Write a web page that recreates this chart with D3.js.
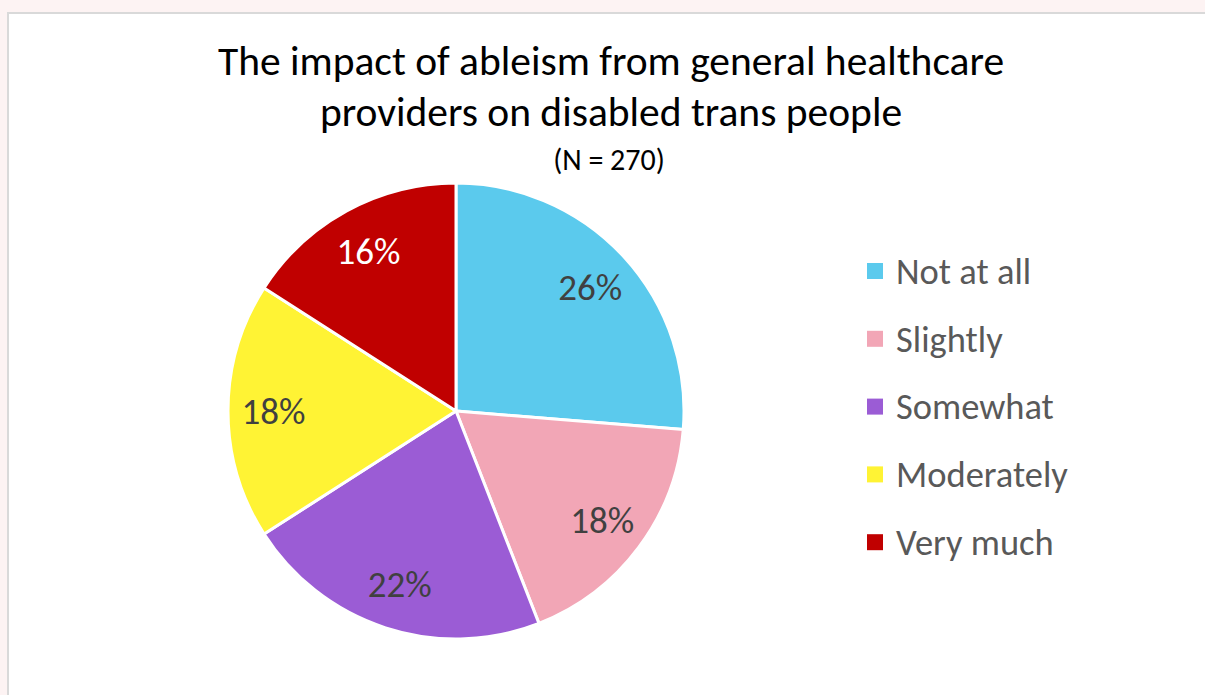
<!DOCTYPE html>
<html>
<head>
<meta charset="utf-8">
<script src="https://cdn.jsdelivr.net/npm/d3@7"></script>
<style>
  body { margin: 0; background: #fdf3f3; }
  #chart { position: absolute; left: 0; top: 0; }
</style>
</head>
<body>
<div id="chart"></div>
<script>
var categories = ['Not at all', 'Slightly', 'Somewhat', 'Moderately', 'Very much'];
var counts = [71, 48, 59, 49, 43];
var colors = ['#5bcaed', '#f2a6b6', '#9b5cd5', '#fff334', '#c00000'];
var label_colors = ['#404040', '#404040', '#404040', '#404040', '#ffffff'];
var title_lines = ['The impact of ableism from general healthcare', 'providers on disabled trans people'];
var subtitle = '(N = 270)';

var width = 1205, height = 695;
var font = "Carlito, 'Open Sans', 'Noto Sans', sans-serif";

var svg = d3.select('#chart').append('svg')
    .attr('width', width)
    .attr('height', height);

// chart area
svg.append('rect')
    .attr('x', 8)
    .attr('y', 13)
    .attr('width', width + 10)
    .attr('height', height + 10)
    .attr('fill', 'white')
    .attr('stroke', '#d9d9d9')
    .attr('stroke-width', 2);

svg.selectAll('.title')
    .data(title_lines)
    .enter().append('text')
    .attr('class', 'title')
    .attr('x', 611)
    .attr('y', function(d, i) { return 75 + i * 51; })
    .attr('text-anchor', 'middle')
    .style('font-family', font)
    .style('font-size', '41.5px')
    .attr('fill', '#000')
    .text(function(d) { return d; });

svg.append('text')
    .attr('x', 609)
    .attr('y', 170)
    .attr('text-anchor', 'middle')
    .style('font-family', font)
    .style('font-size', '30px')
    .attr('fill', '#000')
    .text(subtitle);

var total = d3.sum(counts);
var cx = 456, cy = 411, radius = 228;

var pie = d3.pie().sort(null).value(function(d) { return d; });
var arc = d3.arc().innerRadius(0).outerRadius(radius);
var label_arc = d3.arc().innerRadius(radius * 0.8).outerRadius(radius * 0.8);

var g = svg.append('g')
    .attr('transform', 'translate(' + cx + ',' + cy + ')');

var arcs = pie(counts);

g.selectAll('path')
    .data(arcs)
    .enter().append('path')
    .attr('d', arc)
    .attr('fill', function(d, i) { return colors[i]; })
    .attr('stroke', 'white')
    .attr('stroke-width', 3)
    .attr('stroke-linejoin', 'round');

g.selectAll('.lbl')
    .data(arcs)
    .enter().append('text')
    .attr('class', 'lbl')
    .attr('transform', function(d) { return 'translate(' + label_arc.centroid(d) + ')'; })
    .attr('text-anchor', 'middle')
    .attr('dy', '0.35em')
    .style('font-family', font)
    .style('font-size', '37px')
    .attr('fill', function(d, i) { return label_colors[i]; })
    .text(function(d) { return Math.round(d.value / total * 100) + '%'; });

var legend = svg.append('g')
    .attr('transform', 'translate(867,271)');

categories.forEach(function(c, i) {
    legend.append('rect')
        .attr('x', 0)
        .attr('y', i * 67.8 - 8)
        .attr('width', 16)
        .attr('height', 16)
        .attr('fill', colors[i]);
    legend.append('text')
        .attr('x', 29)
        .attr('y', i * 67.8)
        .attr('dy', '0.35em')
        .style('font-family', font)
        .style('font-size', '36.5px')
        .attr('fill', '#595959')
        .text(c);
});
</script>
</body>
</html>
